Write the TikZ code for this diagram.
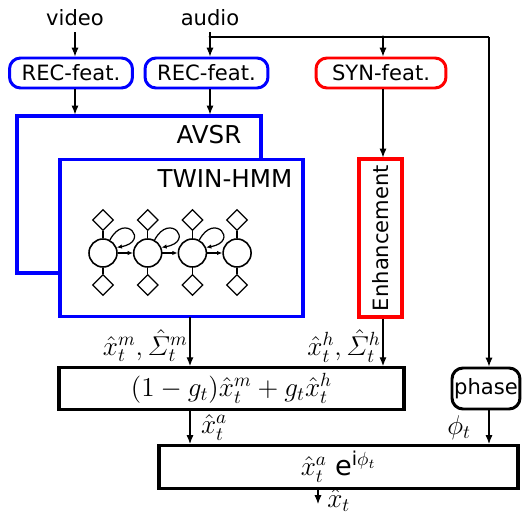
\RequirePackage{fix-cm}
\documentclass[tikz,border=0pt]{standalone}
\usepackage{amsmath,amssymb}
\usepackage[no-math]{fontspec}
\setsansfont{DejaVu Sans}
\usepackage{tikz}
\usetikzlibrary{arrows.meta,shapes.geometric}

\tikzset{
  feat/.style={draw,rounded corners=0.22cm,line width=1.7pt,minimum height=0.6cm,inner sep=1pt},
  blk/.style={draw,line width=1.8pt,fill=white},
  tag/.style={font=\sffamily\fontsize{14}{16}\selectfont,anchor=north east},
  mth/.style={font=\fontsize{15.5}{18}\selectfont},
  state/.style={circle,draw,line width=0.9pt,minimum size=0.56cm,inner sep=0pt},
  obs/.style={diamond,draw,line width=0.7pt,minimum size=0.42cm,inner sep=0pt},
  sig/.style={->,line width=0.6pt},
}

\begin{document}
\begin{tikzpicture}[x=0.02cm,y=0.02cm,>={Latex[length=5pt,width=4pt]},font=\sffamily\fontsize{12}{14}\selectfont]
  \useasboundingbox (0,0) rectangle (522,-517);

  % inputs and features
  \node (video) at (75,-18) {video};
  \node (audio) at (210,-18) {audio};
  \node[feat,draw=blue,minimum width=2.46cm] (recv) at (71,-73) {REC-feat.};
  \node[feat,draw=blue,minimum width=2.46cm] (reca) at (206.5,-73) {REC-feat.};
  \node[feat,draw=red,minimum width=2.6cm] (syn) at (381,-73) {SYN-feat.};

  % recognizer
  \node[blk,draw=blue,minimum width=4.88cm,minimum height=3.14cm] (avsr) at (139,-194.5) {};
  \node[tag] at ([xshift=-0.3cm,yshift=-0.1cm]avsr.north east) {AVSR};
  \node[blk,draw=blue,minimum width=4.86cm,minimum height=3.14cm] (twin) at (181.5,-238) {};
  \node[tag] at ([xshift=-0.12cm,yshift=-0.1cm]twin.north east) {TWIN-HMM};
  \node[blk,draw=red,minimum width=0.86cm,minimum height=3.16cm] (enh) at (380.5,-238) {};
  \node[rotate=90] at (enh) {Enhancement};

  % hmm chain
  \foreach \i in {1,...,4} {
    \node[state] (s\i) at (103+44.7*\i-44.7,-253) {};
    \node[obs] (u\i) at (103+44.7*\i-44.7,-220) {};
    \node[obs] (d\i) at (103+44.7*\i-44.7,-285) {};
    \draw[line width=0.7pt] (u\i) -- (s\i) -- (d\i);
  }
  \foreach \i/\j in {1/2,2/3,3/4} {
    \draw[->,line width=0.7pt,>={Latex[length=3pt,width=2.5pt]}] (s\i) -- (s\j);
    \draw[->,line width=0.7pt,>={Latex[length=3pt,width=2.5pt]}] (s\i.62) .. controls +(62:32) and +(10:34) .. (s\i.22);
  }

  % fusion and output
  \node[blk,mth,minimum width=6.9cm,minimum height=0.82cm] (comb) at (231.5,-388.5) {$(1-g_t)\hat{x}_t^m+g_t\hat{x}_t^h$};
  \node[feat,draw=black,minimum width=1.36cm,minimum height=0.82cm] (phase) at (486,-388.5) {phase};
  \node[blk,mth,minimum width=7.18cm,minimum height=0.86cm] (mult) at (338.5,-467) {$\hat{x}_t^a\ \textsf{e}^{\textsf{i}\phi_t}$};

  \coordinate (tap) at (210,-37);
  \coordinate (tap2) at (383,-37);
  \coordinate (corner) at (489,-37);
  \coordinate (mx) at (190,-317);
  \coordinate (out) at (318,-504);

  \draw[sig] (video) -- (video |- recv.north);
  \draw[sig] (audio) -- (audio |- reca.north);
  \draw[line width=0.6pt] (tap) -- (corner);
  \fill (tap) circle (1.5);
  \fill (tap2) circle (1.5);
  \draw[sig] (tap2) -- (tap2 |- syn.north);
  \draw[sig] (corner) -- (corner |- phase.north);
  \draw[sig] (video |- recv.south) -- (video |- avsr.north);
  \draw[sig] (audio |- reca.south) -- (audio |- avsr.north);
  \draw[sig] (tap2 |- syn.south) -- (tap2 |- enh.north);
  \draw[sig] (mx) -- (mx |- comb.north) node[mth,pos=0.58,left,inner sep=1pt] {$\hat{x}_t^m,\hat{\varSigma}_t^m$};
  \draw[sig] (tap2 |- enh.south) -- (tap2 |- comb.north) node[mth,pos=0.58,left,inner sep=1pt] {$\hat{x}_t^h,\hat{\varSigma}_t^h$};
  \draw[sig] (mx |- comb.south) -- (mx |- mult.north) node[mth,pos=0.5,right,inner sep=6pt] {$\hat{x}_t^a$};
  \draw[sig] (corner |- phase.south) -- (corner |- mult.north) node[mth,pos=0.5,left,inner sep=10pt] {$\phi_t$};
  \draw[sig] (out |- mult.south) -- (out) node[mth,right,inner sep=5pt,yshift=2pt] {$\hat{x}_t$};
\end{tikzpicture}
\end{document}
